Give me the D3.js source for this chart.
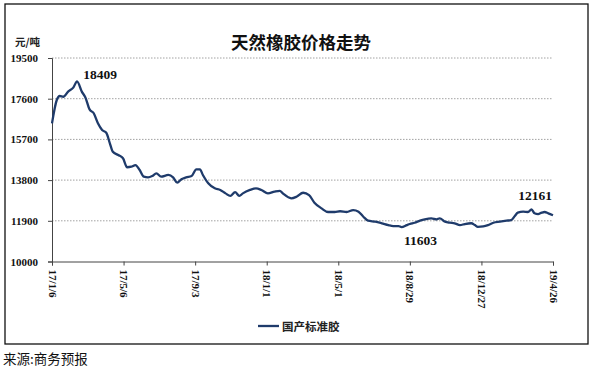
<!DOCTYPE html>
<html>
<head>
<meta charset="utf-8">
<script src="https://cdn.jsdelivr.net/npm/d3@7"></script>
<style>
  body { margin: 0; background: #fff; }
  svg { display: block; }
</style>
</head>
<body>
<div id="vis"><svg width="595" height="370"></svg></div>
<script>
// data
const dates = [
  "2017-01-06","2017-01-14","2017-01-19","2017-01-25","2017-02-02","2017-02-11","2017-02-17","2017-02-25",
  "2017-03-03","2017-03-10","2017-03-17","2017-03-24","2017-03-31","2017-04-07","2017-04-13","2017-04-18",
  "2017-04-27","2017-05-05","2017-05-12","2017-05-19","2017-05-26","2017-06-02","2017-06-09","2017-06-16",
  "2017-06-23","2017-06-30","2017-07-08","2017-07-20","2017-07-28","2017-08-04","2017-08-11","2017-08-19",
  "2017-08-28","2017-09-05","2017-09-11","2017-09-16","2017-09-25","2017-10-06","2017-10-15","2017-10-24",
  "2017-11-01","2017-11-09","2017-11-16","2017-11-22","2017-12-04","2017-12-14","2017-12-23","2018-01-03",
  "2018-01-14","2018-01-23","2018-01-28","2018-02-11","2018-02-20","2018-03-03","2018-03-13","2018-03-22",
  "2018-04-03","2018-04-14","2018-04-25","2018-05-04","2018-05-15","2018-05-26","2018-06-04","2018-06-12",
  "2018-06-20","2018-07-02","2018-07-13","2018-07-24","2018-08-01","2018-08-10","2018-08-15","2018-08-24",
  "2018-08-29","2018-09-06","2018-09-15","2018-09-23","2018-10-04","2018-10-13","2018-10-18","2018-10-27",
  "2018-11-04","2018-11-12","2018-11-21","2018-11-29","2018-12-10","2018-12-16","2018-12-21","2018-12-30",
  "2019-01-07","2019-01-16","2019-01-27","2019-02-07","2019-02-15","2019-02-21","2019-02-26","2019-03-07",
  "2019-03-15","2019-03-21","2019-03-26","2019-04-01","2019-04-07","2019-04-12","2019-04-18","2019-04-26"
];
const prices = [
  16450,17540,17725,17690,17930,18130,18409,17930,
  17660,17100,16920,16450,16140,16010,15520,15125,
  14970,14820,14400,14425,14500,14270,13960,13930,
  13990,14115,13960,14040,13930,13680,13840,13930,
  13990,14300,14300,14040,13650,13415,13340,13180,
  13060,13240,13060,13180,13340,13415,13340,13180,
  13260,13300,13180,12950,13025,13210,13100,12745,
  12480,12310,12310,12345,12310,12400,12325,12090,
  11905,11860,11785,11700,11655,11655,11603,11700,
  11750,11810,11905,11970,12015,11970,12015,11860,
  11810,11785,11700,11750,11785,11700,11620,11640,
  11700,11810,11860,11905,11935,12125,12280,12325,
  12310,12435,12250,12215,12280,12310,12250,12161
];
const xTicks = ["2017-01-06","2017-05-06","2017-09-03","2018-01-01","2018-05-01","2018-08-29","2018-12-27","2019-04-26"];
const yTicks = [10000, 11900, 13800, 15700, 17600, 19500];
const title = "天然橡胶价格走势";
const unit = "元/吨";
const seriesName = "国产标准胶";
const source = "来源:商务预报";

const parse = d3.timeParse("%Y-%m-%d");
const fmt = d3.timeFormat("%y/%-m/%-d");
const data = dates.map((d, i) => ({ date: parse(d), value: prices[i] }));

const margin = { top: 58, left: 52, right: 42, bottom: 108.5 };
const W = 595, H = 370;
const svg = d3.select("#vis").select("svg");
const serif = "'Liberation Serif', 'Times New Roman', serif";
const cjk = "'Noto Sans CJK SC', sans-serif";
const lineColor = "#1f3b6b";

// outer frame
svg.append("rect")
  .attr("x", 5).attr("y", 4)
  .attr("width", 583).attr("height", 340)
  .attr("fill", "none")
  .attr("stroke", "#111")
  .attr("stroke-width", 1.3);

const x = d3.scaleTime()
  .domain([parse(xTicks[0]), parse(xTicks[xTicks.length - 1])])
  .range([margin.left, W - margin.right]);
const y = d3.scaleLinear()
  .domain([10000, 19500])
  .range([H - margin.bottom, margin.top]);

// grid
svg.append("g")
  .selectAll("line")
  .data(yTicks.slice(1))
  .join("line")
  .attr("x1", margin.left).attr("x2", W - margin.right)
  .attr("y1", d => y(d)).attr("y2", d => y(d))
  .attr("stroke", "#8a8a8a")
  .attr("stroke-width", 0.8)
  .attr("stroke-dasharray", "1.5,1.5");

// y axis
const yAxisG = svg.append("g")
  .attr("transform", `translate(${margin.left},0)`)
  .call(d3.axisLeft(y).tickValues(yTicks).tickSize(4).tickPadding(10).tickFormat(d3.format("d")));
yAxisG.selectAll("text")
  .attr("font-family", serif).attr("font-weight", "bold").attr("font-size", 11).attr("fill", "#111");
yAxisG.selectAll("path, line").attr("stroke", "#444");

// x axis
const xAxisG = svg.append("g")
  .attr("transform", `translate(0,${y(10000)})`)
  .call(d3.axisBottom(x).tickValues(xTicks.map(parse)).tickSize(4).tickFormat(fmt));
xAxisG.selectAll("path, line").attr("stroke", "#444");
xAxisG.selectAll("text")
  .attr("font-family", serif).attr("font-weight", "bold").attr("font-size", 11).attr("fill", "#111")
  .attr("transform", "rotate(90)")
  .attr("x", 8).attr("y", 0).attr("dy", "0.35em")
  .attr("text-anchor", "start");

// line
const line = d3.line()
  .x(d => x(d.date))
  .y(d => y(d.value))
  .curve(d3.curveMonotoneX);
svg.append("path")
  .datum(data)
  .attr("d", line)
  .attr("fill", "none")
  .attr("stroke", lineColor)
  .attr("stroke-width", 2.3)
  .attr("stroke-linejoin", "round");

// value labels
const maxPt = data.reduce((a, b) => b.value > a.value ? b : a);
const minPt = data.reduce((a, b) => b.value < a.value ? b : a);
const lastPt = data[data.length - 1];
const notes = [
  { p: maxPt, dx: 23, dy: -2 },
  { p: minPt, dx: 19, dy: 18 },
  { p: lastPt, dx: -18, dy: -15 }
];
svg.append("g")
  .selectAll("text")
  .data(notes)
  .join("text")
  .attr("x", d => x(d.p.date) + d.dx)
  .attr("y", d => y(d.p.value) + d.dy)
  .attr("text-anchor", "middle")
  .attr("font-family", serif).attr("font-weight", "bold").attr("font-size", 13.5)
  .attr("fill", "#111")
  .text(d => d.p.value);

// title and unit
svg.append("text")
  .attr("x", 301).attr("y", 49)
  .attr("text-anchor", "middle")
  .attr("font-family", cjk).attr("font-weight", "bold").attr("font-size", 17.5)
  .attr("fill", "#111")
  .text(title);
svg.append("text")
  .attr("x", 15).attr("y", 46)
  .attr("font-family", cjk).attr("font-weight", "bold").attr("font-size", 10.5)
  .attr("fill", "#222")
  .text(unit);

// legend
const lg = svg.append("g").attr("transform", "translate(258,326)");
lg.append("line").attr("x1", 0).attr("x2", 21).attr("y1", 0).attr("y2", 0)
  .attr("stroke", lineColor).attr("stroke-width", 2.3);
lg.append("text").attr("x", 24).attr("y", 4.5)
  .attr("font-family", cjk).attr("font-weight", "bold").attr("font-size", 11.5)
  .attr("fill", "#222")
  .text(seriesName);

// source
svg.append("text")
  .attr("x", 3).attr("y", 364)
  .attr("font-family", cjk).attr("font-size", 13.5)
  .attr("fill", "#111")
  .text(source);
</script>
</body>
</html>
